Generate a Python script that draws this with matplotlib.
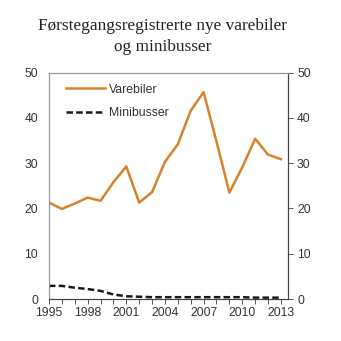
import matplotlib
matplotlib.use('Agg')
import matplotlib.pyplot as plt
from matplotlib.ticker import MultipleLocator

# Førstegangsregistrerte varebiler og minibusser, 1000 stk
years = list(range(1995, 2014))
varebiler = [21.3, 19.9, 21.1, 22.4, 21.7, 25.8, 29.3, 21.3, 23.6, 30.3,
             34.2, 41.6, 45.7, 34.8, 23.5, 29.1, 35.4, 31.9, 30.9]
minibusser = [2.9, 2.9, 2.5, 2.2, 1.8, 1.0, 0.6, 0.5, 0.4, 0.4,
              0.4, 0.4, 0.4, 0.4, 0.4, 0.4, 0.3, 0.3, 0.3]
xticks = [1995, 1998, 2001, 2004, 2007, 2010, 2013]
yticks = [0, 10, 20, 30, 40, 50]

fig = plt.figure(figsize=(3.41, 3.41), dpi=100)
ax = fig.add_axes([49/341, 1 - 299/341, (288-49)/341, (299-72.7)/341])

ax.plot(years, varebiler, color='#D9822A', lw=1.8, label='Varebiler')
ax.plot(years, minibusser, color='#1a1a1a', lw=1.8, ls=(0, (2.6, 1.3)), label='Minibusser')

ax.set_xlim(1995, 2013.55)
ax.set_ylim(0, 50)
ax.set_xticks(xticks)
ax.xaxis.set_minor_locator(MultipleLocator(1))
ax.set_yticks(yticks)

tick_font = {'family': 'Liberation Sans', 'size': 8.8}
ax.set_xticklabels([str(t) for t in xticks], **tick_font, color='#333333')
ax.set_yticklabels([str(t) for t in yticks], **tick_font, color='#333333')
ax.tick_params(axis='x', which='both', direction='out', length=3.5, width=0.7,
               color='#555555', pad=2)
ax.tick_params(axis='y', length=0, pad=8)

ax2 = ax.twinx()
ax2.set_ylim(0, 50)
ax2.set_yticks(yticks)
ax2.set_yticklabels([str(t) for t in yticks], **tick_font, color='#333333')
ax2.tick_params(axis='y', direction='out', length=3.5, width=0.7, color='#555555', pad=3)

for a in (ax, ax2):
    a.spines['left'].set_color('#999999')
    a.spines['top'].set_color('#999999')
    a.spines['right'].set_color('#444444')
    a.spines['bottom'].set_color('#444444')
    for s in a.spines.values():
        s.set_linewidth(0.8)

leg = ax.legend(loc='upper left', frameon=False, handlelength=3.2, handletextpad=0.3,
                labelspacing=0.95, bbox_to_anchor=(0.025, 1.0),
                prop={'family': 'Liberation Sans', 'size': 8.8})
for t in leg.get_texts():
    t.set_color('#333333')

fig.text(0.478, 0.948, 'Førstegangsregistrerte nye varebiler\nog minibusser',
         ha='center', va='top', family='Liberation Serif', size=12.4,
         color='#222222', linespacing=1.4)

fig.savefig('out.png', dpi=100)
